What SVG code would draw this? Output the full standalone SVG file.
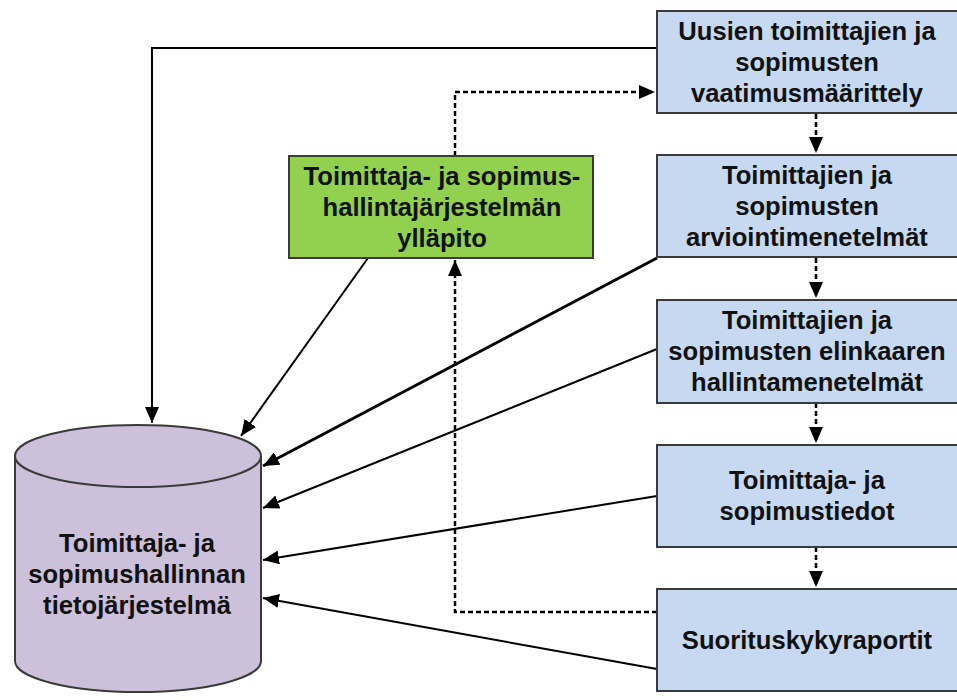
<svg xmlns="http://www.w3.org/2000/svg" width="957" height="700" viewBox="0 0 957 700">
<style>
.box{fill:#C6D9F0;stroke:#3a3a3a;stroke-width:2}
.green{fill:#92D050;stroke:#3a3a3a;stroke-width:2}
.cyl{fill:#CCC0DA;stroke:#3a3a3a;stroke-width:2}
.t{font-family:"Liberation Sans",Arial,sans-serif;font-weight:bold;font-size:25.6px;fill:#111;text-anchor:middle}
.ln{fill:none;stroke:#000;stroke-width:2}
.dash{fill:none;stroke:#000;stroke-width:2.5;stroke-dasharray:5,3}
</style>
<defs>
<marker id="ah" markerUnits="userSpaceOnUse" markerWidth="18" markerHeight="14" refX="16" refY="7" orient="auto">
<path d="M0,0 L16,7 L0,14 Z" fill="#000"/>
</marker>
</defs>
<g id="connectors">
<path class="ln" d="M657,48 H152 V423" marker-end="url(#ah)"/>
<path class="ln" d="M368,258 L241,436" marker-end="url(#ah)"/>
<path class="ln" style="stroke-width:3" d="M657,258 L263,466" marker-end="url(#ah)"/>
<path class="ln" d="M657,349 L263,508" marker-end="url(#ah)"/>
<path class="ln" d="M657,496 L263,560" marker-end="url(#ah)"/>
<path class="ln" d="M657,669 L263,598" marker-end="url(#ah)"/>
<path class="dash" d="M657,612 H455 V260" marker-end="url(#ah)"/>
<path class="dash" d="M455,156 V92 H655" marker-end="url(#ah)"/>
<path class="dash" d="M816,114 V153" marker-end="url(#ah)"/>
<path class="dash" d="M816,258 V298" marker-end="url(#ah)"/>
<path class="dash" d="M816,403 V443" marker-end="url(#ah)"/>
<path class="dash" d="M816,547 V587" marker-end="url(#ah)"/>
</g>
<g id="box1">
<rect class="box" x="657" y="11" width="310" height="102"/>
<text class="t" x="807" y="40">Uusien toimittajien ja</text>
<text class="t" x="807" y="71">sopimusten</text>
<text class="t" x="807" y="102">vaatimusmäärittely</text>
</g>
<g id="box2">
<rect class="box" x="657" y="155" width="310" height="102"/>
<text class="t" x="807" y="184">Toimittajien ja</text>
<text class="t" x="807" y="215">sopimusten</text>
<text class="t" x="807" y="246">arviointimenetelmät</text>
</g>
<g id="box3">
<rect class="box" x="657" y="300" width="310" height="103"/>
<text class="t" x="807" y="329">Toimittajien ja</text>
<text class="t" x="807" y="360">sopimusten elinkaaren</text>
<text class="t" x="807" y="391">hallintamenetelmät</text>
</g>
<g id="box4">
<rect class="box" x="657" y="445" width="310" height="102"/>
<text class="t" x="807" y="489">Toimittaja- ja</text>
<text class="t" x="807" y="520">sopimustiedot</text>
</g>
<g id="box5">
<rect class="box" x="657" y="589" width="310" height="102"/>
<text class="t" x="807" y="649">Suorituskykyraportit</text>
</g>
<g id="green">
<rect class="green" x="289" y="156" width="304" height="102"/>
<text class="t" x="442" y="185">Toimittaja- ja sopimus-</text>
<text class="t" x="442" y="216">hallintajärjestelmän</text>
<text class="t" x="442" y="247">ylläpito</text>
</g>
<g id="database">
<path class="cyl" d="M15,456 A123,31 0 0 1 261,456 V661 A123,31 0 0 1 15,661 Z"/>
<path class="cyl" style="fill:none" d="M15,456 A123,31 0 0 0 261,456"/>
<text class="t" x="137" y="552">Toimittaja- ja</text>
<text class="t" x="137" y="583">sopimushallinnan</text>
<text class="t" x="137" y="614">tietojärjestelmä</text>
</g>
</svg>
